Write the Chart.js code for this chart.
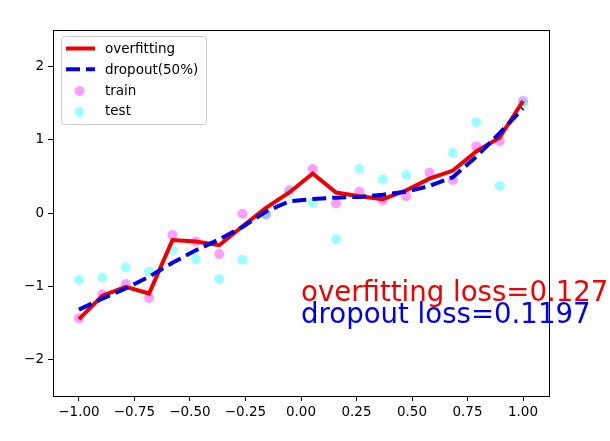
<!DOCTYPE html>
<html>
<head>
<meta charset="utf-8">
<script src="https://cdn.jsdelivr.net/npm/chart.js@4/dist/chart.umd.min.js"></script>
<style>
html,body{margin:0;padding:0;background:#fff;}
canvas{display:block;}
</style>
</head>
<body>
<canvas id="c" width="610" height="441"></canvas>
<script>
const xValues = [-1, -0.8947, -0.7895, -0.6842, -0.5789, -0.4737, -0.3684, -0.2632, -0.1579, -0.0526,
                 0.0526, 0.1579, 0.2632, 0.3684, 0.4737, 0.5789, 0.6842, 0.7895, 0.8947, 1];
const trainY = [-1.44, -1.11, -0.97, -1.16, -0.30, -0.39, -0.56, -0.01, -0.02, 0.31,
                0.60, 0.13, 0.29, 0.17, 0.23, 0.55, 0.45, 0.91, 0.98, 1.53];
const testY = [-0.915, -0.88, -0.74, -0.80, -0.505, -0.63, -0.90, -0.64, -0.02, 0.28,
               0.14, -0.36, 0.60, 0.46, 0.52, 0.45, 0.82, 1.24, 0.37, 1.50];
const overfitY = [-1.45, -1.13, -1.01, -1.10, -0.37, -0.39, -0.44, -0.18, 0.07, 0.28,
                  0.54, 0.28, 0.23, 0.19, 0.31, 0.47, 0.58, 0.84, 1.03, 1.53];
const dropoutY = [-1.32, -1.17, -1.03, -0.87, -0.68, -0.51, -0.36, -0.19, 0.02, 0.16,
                  0.19, 0.21, 0.22, 0.25, 0.29, 0.37, 0.49, 0.77, 1.09, 1.43];
const xTicks = [-1, -0.75, -0.5, -0.25, 0, 0.25, 0.5, 0.75, 1];
const yTicks = [-2, -1, 0, 1, 2];
const seriesLabels = ['overfitting', 'dropout(50%)', 'train', 'test'];
const annotTexts = ['overfitting loss=0.127', 'dropout loss=0.1197'];
const annotX = [0, 0];
const annotY = [-1.2, -1.5];
const annotColors = ['#f00000', '#0000f0'];

const FONT = '"DejaVu Sans", sans-serif';
const pts = ys => xValues.map((x, i) => ({x: x, y: ys[i]}));
const minusFmt = (v, d) => (v < -1e-9 ? '\u2212' : '') + Math.abs(v).toFixed(d);

const bgPlugin = {
  id: 'bg',
  beforeDraw(chart) {
    const ctx = chart.ctx;
    ctx.save();
    ctx.fillStyle = '#fff';
    ctx.fillRect(0, 0, chart.width, chart.height);
    ctx.restore();
  }
};

const framePlugin = {
  id: 'frame',
  afterDatasetsDraw(chart) {
    const a = chart.chartArea, ctx = chart.ctx;
    ctx.save();
    ctx.strokeStyle = '#000';
    ctx.lineWidth = 1;
    ctx.strokeRect(Math.round(a.left) + 0.5, Math.round(a.top) + 0.5,
                   Math.round(a.right - a.left), Math.round(a.bottom - a.top));
    ctx.restore();
  }
};

const textPlugin = {
  id: 'annot',
  afterDraw(chart) {
    const ctx = chart.ctx, xs = chart.scales.x, ys = chart.scales.y;
    ctx.save();
    ctx.font = '27.6px ' + FONT;
    ctx.textAlign = 'left';
    ctx.textBaseline = 'alphabetic';
    annotTexts.forEach((t, i) => {
      ctx.fillStyle = annotColors[i];
      ctx.fillText(t, xs.getPixelForValue(annotX[i]), ys.getPixelForValue(annotY[i]));
    });
    ctx.restore();
  }
};

const legendPlugin = {
  id: 'mplLegend',
  afterDraw(chart) {
    const ctx = chart.ctx;
    const a = chart.chartArea;
    const bx = a.left + 8, by = a.top + 6, bw = 145, bh = 88;
    ctx.save();
    ctx.beginPath();
    ctx.roundRect(bx + 0.5, by + 0.5, bw, bh, 3);
    ctx.fillStyle = 'rgba(255,255,255,0.8)';
    ctx.fill();
    ctx.strokeStyle = '#cccccc';
    ctx.lineWidth = 1;
    ctx.stroke();
    const rowY0 = by + 12.5, rowStep = 20.8;
    const sx0 = bx + 5, sx1 = bx + 34, tx = bx + 44;
    ctx.font = '13.5px ' + FONT;
    ctx.textBaseline = 'middle';
    ctx.textAlign = 'left';
    chart.data.datasets.forEach((ds, i) => {
      const yy = rowY0 + i * rowStep;
      if (ds.type === 'line') {
        ctx.save();
        ctx.strokeStyle = ds.borderColor;
        ctx.lineWidth = ds.borderWidth;
        ctx.setLineDash(ds.borderDash || []);
        ctx.beginPath();
        ctx.moveTo(sx0, yy);
        ctx.lineTo(sx1, yy);
        ctx.stroke();
        ctx.restore();
      } else {
        ctx.beginPath();
        ctx.arc((sx0 + sx1) / 2 - 1, yy + 1, ds.pointRadius, 0, Math.PI * 2);
        ctx.fillStyle = ds.backgroundColor;
        ctx.fill();
      }
      ctx.fillStyle = '#000';
      ctx.fillText(ds.label, tx, yy + 1);
    });
    ctx.restore();
  }
};

new Chart(document.getElementById('c'), {
  type: 'scatter',
  data: {
    datasets: [
      {type: 'line', label: seriesLabels[0], data: pts(overfitY), borderColor: '#f00000',
       borderWidth: 4, pointRadius: 0, tension: 0, fill: false, order: 1},
      {type: 'line', label: seriesLabels[1], data: pts(dropoutY), borderColor: '#0000e0',
       borderWidth: 4, borderDash: [14, 6], pointRadius: 0, tension: 0, fill: false, order: 0},
      {type: 'scatter', label: seriesLabels[2], data: pts(trainY),
       backgroundColor: 'rgba(255,0,255,0.38)', borderWidth: 0, pointRadius: 5, order: 3},
      {type: 'scatter', label: seriesLabels[3], data: pts(testY),
       backgroundColor: 'rgba(0,255,255,0.38)', borderWidth: 0, pointRadius: 5, order: 2}
    ]
  },
  options: {
    responsive: false,
    animation: false,
    devicePixelRatio: 1,
    layout: {padding: {left: 0, top: 30, right: 61, bottom: 0}},
    plugins: {legend: {display: false}, tooltip: {enabled: false}},
    scales: {
      x: {
        type: 'linear', min: -1.117, max: 1.117,
        afterBuildTicks: s => { s.ticks = xTicks.map(v => ({value: v})); },
        afterFit: s => { s.height = 45; },
        ticks: {callback: v => minusFmt(v, 2), color: '#000', font: {family: FONT, size: 13.5},
                padding: 3, maxRotation: 0, autoSkip: false},
        grid: {display: true, drawOnChartArea: false, drawTicks: true, tickLength: 5,
               color: '#000', tickColor: '#000'},
        border: {display: true, color: '#000', width: 1}
      },
      y: {
        type: 'linear', min: -2.5, max: 2.5,
        afterBuildTicks: s => { s.ticks = yTicks.map(v => ({value: v})); },
        afterFit: s => { s.width = 53; },
        ticks: {callback: v => minusFmt(v, 0), color: '#000', font: {family: FONT, size: 13.5},
                padding: 4, autoSkip: false},
        grid: {display: true, drawOnChartArea: false, drawTicks: true, tickLength: 5,
               color: '#000', tickColor: '#000'},
        border: {display: true, color: '#000', width: 1}
      }
    }
  },
  plugins: [bgPlugin, framePlugin, textPlugin, legendPlugin]
});
</script>
</body>
</html>
